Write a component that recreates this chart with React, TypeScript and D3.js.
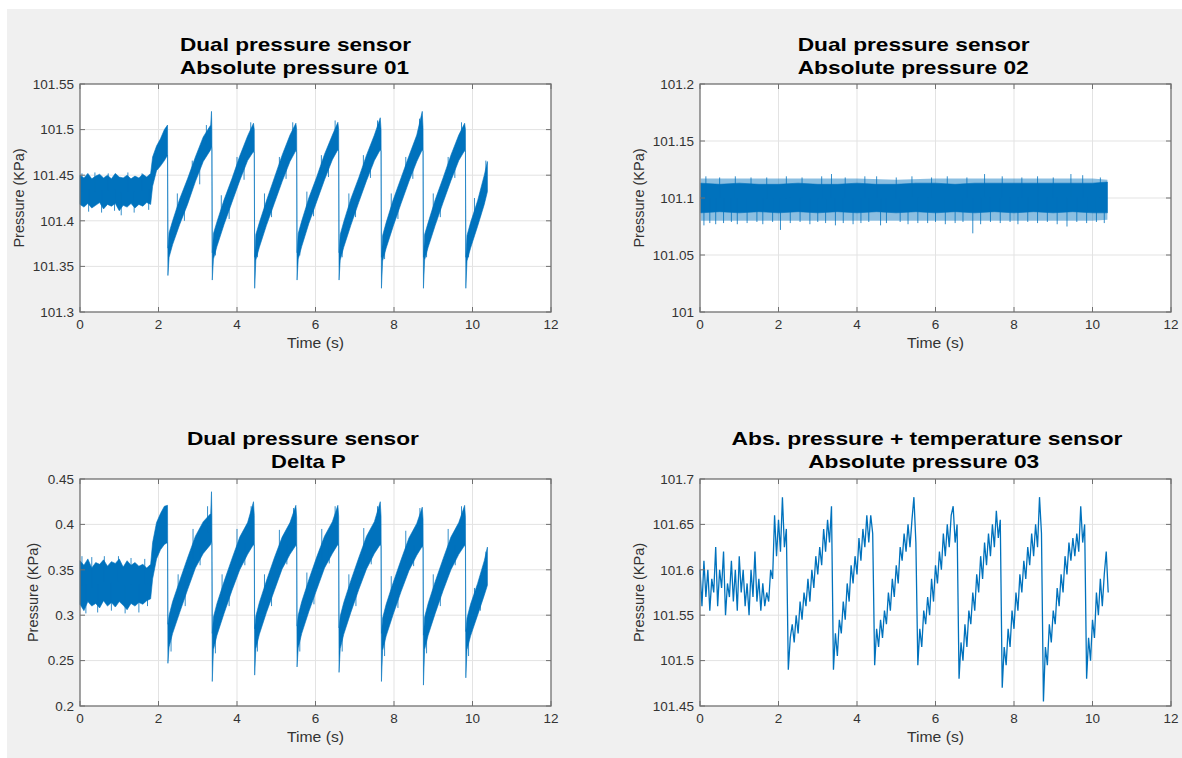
import React from 'react';
import * as d3 from 'd3';

// ---------- tick values & labels ----------
const timeTicks = [0, 2, 4, 6, 8, 10, 12];
const timeTickLabels = ['0', '2', '4', '6', '8', '10', '12'];

const abs01Ticks = [101.3, 101.35, 101.4, 101.45, 101.5, 101.55];
const abs01TickLabels = ['101.3', '101.35', '101.4', '101.45', '101.5', '101.55'];
const abs02Ticks = [101, 101.05, 101.1, 101.15, 101.2];
const abs02TickLabels = ['101', '101.05', '101.1', '101.15', '101.2'];
const deltaTicks = [0.2, 0.25, 0.3, 0.35, 0.4, 0.45];
const deltaTickLabels = ['0.2', '0.25', '0.3', '0.35', '0.4', '0.45'];
const abs03Ticks = [101.45, 101.5, 101.55, 101.6, 101.65, 101.7];
const abs03TickLabels = ['101.45', '101.5', '101.55', '101.6', '101.65', '101.7'];

// ---------- Absolute pressure 01 : dense trace envelope [t, low, high] ----------
const abs01Band: [number, number, number][] = [
  [0, 101.418, 101.45], [0.1, 101.415, 101.447], [0.2, 101.419, 101.452], [0.3, 101.414, 101.446],
  [0.4, 101.417, 101.449], [0.5, 101.42, 101.451], [0.6, 101.413, 101.447], [0.7, 101.418, 101.45],
  [0.8, 101.416, 101.446], [0.9, 101.419, 101.452], [1.0, 101.411, 101.448], [1.1, 101.417, 101.447],
  [1.2, 101.415, 101.45], [1.3, 101.419, 101.446], [1.4, 101.414, 101.449], [1.5, 101.418, 101.447],
  [1.6, 101.416, 101.451], [1.7, 101.42, 101.448], [1.8, 101.418, 101.452],
  [1.85, 101.438, 101.47], [1.95, 101.455, 101.482], [2.05, 101.46, 101.49], [2.15, 101.466, 101.5], [2.23, 101.472, 101.505],
  [2.24, 101.34, 101.37], [2.27, 101.36, 101.387], [2.36, 101.374, 101.4], [2.54, 101.396, 101.424],
  [2.74, 101.418, 101.446], [2.94, 101.443, 101.47], [3.14, 101.465, 101.492], [3.33, 101.478, 101.505],
  [3.35, 101.482, 101.52], [3.36, 101.478, 101.5],
  [3.37, 101.335, 101.365], [3.4, 101.358, 101.386], [3.49, 101.372, 101.399], [3.67, 101.396, 101.423],
  [3.87, 101.42, 101.446], [4.07, 101.444, 101.471], [4.27, 101.466, 101.493], [4.42, 101.476, 101.507], [4.44, 101.474, 101.5],
  [4.45, 101.326, 101.36], [4.48, 101.357, 101.385], [4.57, 101.371, 101.398], [4.75, 101.395, 101.422],
  [4.95, 101.419, 101.447], [5.15, 101.443, 101.472], [5.35, 101.465, 101.494], [5.5, 101.477, 101.507], [5.52, 101.475, 101.5],
  [5.53, 101.335, 101.365], [5.56, 101.358, 101.386], [5.65, 101.372, 101.4], [5.83, 101.397, 101.425],
  [6.03, 101.421, 101.448], [6.23, 101.445, 101.473], [6.43, 101.467, 101.494], [6.57, 101.478, 101.508], [6.59, 101.476, 101.5],
  [6.6, 101.335, 101.365], [6.63, 101.357, 101.385], [6.72, 101.371, 101.399], [6.9, 101.395, 101.424],
  [7.1, 101.42, 101.447], [7.3, 101.444, 101.472], [7.5, 101.466, 101.494], [7.65, 101.478, 101.513], [7.67, 101.476, 101.5],
  [7.68, 101.326, 101.36], [7.71, 101.356, 101.384], [7.8, 101.37, 101.398], [7.98, 101.394, 101.423],
  [8.18, 101.419, 101.447], [8.38, 101.443, 101.471], [8.58, 101.465, 101.494], [8.72, 101.478, 101.52], [8.74, 101.476, 101.502],
  [8.75, 101.326, 101.36], [8.78, 101.357, 101.385], [8.87, 101.371, 101.398], [9.05, 101.395, 101.423],
  [9.25, 101.42, 101.447], [9.45, 101.444, 101.472], [9.65, 101.466, 101.494], [9.8, 101.477, 101.507], [9.82, 101.475, 101.5],
  [9.83, 101.326, 101.36], [9.86, 101.356, 101.384], [9.95, 101.37, 101.398], [10.13, 101.394, 101.422],
  [10.3, 101.418, 101.45], [10.38, 101.432, 101.465],
];
const abs01Spikes: [number, number][] = [
  [0.05, 101.452], [0.22, 101.41], [0.38, 101.453], [0.55, 101.409], [0.72, 101.452], [0.88, 101.411],
  [1.05, 101.406], [1.22, 101.453], [1.38, 101.409], [1.58, 101.452], [1.75, 101.412],
  [2.32, 101.372], [2.48, 101.43], [2.66, 101.4], [2.86, 101.466], [3.05, 101.44], [3.22, 101.505],
  [3.45, 101.362], [3.6, 101.428], [3.8, 101.402], [4.0, 101.47], [4.18, 101.445], [4.35, 101.508],
  [4.52, 101.36], [4.7, 101.43], [4.88, 101.404], [5.08, 101.47], [5.25, 101.446], [5.42, 101.508],
  [5.6, 101.362], [5.78, 101.432], [5.95, 101.405], [6.15, 101.472], [6.33, 101.448], [6.5, 101.51],
  [6.68, 101.36], [6.85, 101.43], [7.02, 101.404], [7.22, 101.472], [7.4, 101.447], [7.58, 101.51],
  [7.76, 101.358], [7.93, 101.43], [8.1, 101.402], [8.3, 101.47], [8.48, 101.446], [8.65, 101.512],
  [8.83, 101.36], [9.0, 101.43], [9.18, 101.404], [9.38, 101.47], [9.55, 101.447], [9.72, 101.508],
  [9.9, 101.36], [10.05, 101.425], [10.2, 101.405], [10.34, 101.466],
];

// ---------- Absolute pressure 02 : dense core and lighter fringe ----------
const abs02Band: [number, number, number][] = [
  [0.02, 101.087, 101.113], [0.5, 101.088, 101.112], [1.0, 101.087, 101.113], [1.5, 101.088, 101.112],
  [2.0, 101.087, 101.112], [2.5, 101.088, 101.113], [3.0, 101.087, 101.112], [3.5, 101.088, 101.112],
  [4.0, 101.087, 101.113], [4.5, 101.088, 101.112], [5.0, 101.087, 101.112], [5.5, 101.088, 101.113],
  [6.0, 101.087, 101.113], [6.5, 101.088, 101.112], [7.0, 101.087, 101.113], [7.5, 101.088, 101.113],
  [8.0, 101.087, 101.113], [8.5, 101.088, 101.113], [9.0, 101.087, 101.113], [9.5, 101.088, 101.113],
  [10.0, 101.087, 101.113], [10.38, 101.087, 101.114],
];
const abs02Fringe: [number, number, number][] = [
  [0.02, 101.08, 101.117], [1.0, 101.08, 101.117], [2.0, 101.08, 101.117], [3.0, 101.08, 101.117],
  [4.0, 101.08, 101.117], [5.0, 101.08, 101.116], [6.0, 101.08, 101.117], [7.0, 101.08, 101.117],
  [8.0, 101.08, 101.117], [9.0, 101.08, 101.117], [10.0, 101.08, 101.117], [10.38, 101.081, 101.116],
];
const abs02Spikes: [number, number][] = [
  [0.1, 101.076], [0.25, 101.078], [0.4, 101.077], [0.6, 101.078], [0.8, 101.079], [0.95, 101.077],
  [1.2, 101.078], [1.45, 101.079], [1.6, 101.077], [1.85, 101.079], [2.05, 101.072], [2.3, 101.078],
  [2.55, 101.079], [2.8, 101.077], [3.0, 101.079], [3.2, 101.078], [3.45, 101.076], [3.65, 101.078],
  [3.9, 101.077], [4.1, 101.078], [4.3, 101.079], [4.6, 101.076], [4.75, 101.078], [5.1, 101.079],
  [5.3, 101.077], [5.55, 101.078], [5.8, 101.078], [6.0, 101.079], [6.25, 101.077], [6.5, 101.078],
  [6.7, 101.079], [6.95, 101.069], [7.15, 101.077], [7.4, 101.079], [7.65, 101.078], [7.9, 101.079],
  [8.1, 101.077], [8.35, 101.079], [8.6, 101.078], [8.85, 101.079], [9.1, 101.077], [9.35, 101.075],
  [9.6, 101.079], [9.85, 101.078], [10.1, 101.079], [10.3, 101.078],
  [0.15, 101.119], [0.5, 101.118], [0.9, 101.119], [1.3, 101.118], [1.7, 101.118], [2.2, 101.119],
  [2.6, 101.118], [3.1, 101.119], [3.35, 101.121], [3.7, 101.118], [4.2, 101.119], [4.5, 101.119],
  [5.0, 101.118], [5.4, 101.119], [5.9, 101.118], [6.3, 101.119], [6.8, 101.118], [7.25, 101.121],
  [7.7, 101.119], [8.2, 101.118], [8.6, 101.119], [9.0, 101.118], [9.45, 101.121], [9.75, 101.12], [10.2, 101.118],
];

// ---------- Delta P ----------
const deltaBand: [number, number, number][] = [
  [0, 0.312, 0.36], [0.1, 0.305, 0.355], [0.2, 0.315, 0.362], [0.3, 0.31, 0.352], [0.4, 0.313, 0.358],
  [0.5, 0.308, 0.356], [0.6, 0.316, 0.361], [0.7, 0.31, 0.354], [0.8, 0.314, 0.359], [0.9, 0.309, 0.357],
  [1.0, 0.315, 0.362], [1.1, 0.311, 0.353], [1.2, 0.306, 0.36], [1.3, 0.313, 0.355], [1.4, 0.31, 0.358],
  [1.5, 0.314, 0.354], [1.6, 0.312, 0.356], [1.7, 0.316, 0.352], [1.8, 0.318, 0.356],
  [1.85, 0.34, 0.38], [1.95, 0.362, 0.402], [2.05, 0.372, 0.412], [2.15, 0.378, 0.42], [2.23, 0.38, 0.421],
  [2.24, 0.247, 0.29], [2.27, 0.265, 0.3], [2.36, 0.28, 0.315], [2.54, 0.303, 0.338], [2.74, 0.328, 0.363],
  [2.94, 0.352, 0.387], [3.14, 0.368, 0.403], [3.33, 0.378, 0.412], [3.35, 0.382, 0.436], [3.36, 0.378, 0.41],
  [3.37, 0.227, 0.28], [3.4, 0.262, 0.298], [3.49, 0.278, 0.313], [3.67, 0.302, 0.337], [3.87, 0.327, 0.362],
  [4.07, 0.35, 0.386], [4.27, 0.367, 0.402], [4.42, 0.378, 0.425], [4.44, 0.376, 0.41],
  [4.45, 0.234, 0.285], [4.48, 0.263, 0.299], [4.57, 0.279, 0.314], [4.75, 0.303, 0.338], [4.95, 0.327, 0.363],
  [5.15, 0.351, 0.386], [5.35, 0.367, 0.402], [5.5, 0.377, 0.421], [5.52, 0.375, 0.408],
  [5.53, 0.243, 0.288], [5.56, 0.264, 0.3], [5.65, 0.28, 0.315], [5.83, 0.304, 0.339], [6.03, 0.328, 0.364],
  [6.23, 0.352, 0.387], [6.43, 0.368, 0.403], [6.57, 0.378, 0.421], [6.59, 0.376, 0.409],
  [6.6, 0.237, 0.286], [6.63, 0.263, 0.299], [6.72, 0.279, 0.314], [6.9, 0.303, 0.338], [7.1, 0.328, 0.363],
  [7.3, 0.351, 0.387], [7.5, 0.368, 0.403], [7.65, 0.378, 0.425], [7.67, 0.376, 0.409],
  [7.68, 0.227, 0.28], [7.71, 0.261, 0.297], [7.8, 0.277, 0.312], [7.98, 0.301, 0.336], [8.18, 0.326, 0.361],
  [8.38, 0.349, 0.385], [8.58, 0.366, 0.401], [8.72, 0.376, 0.419], [8.74, 0.374, 0.406],
  [8.75, 0.223, 0.278], [8.78, 0.262, 0.298], [8.87, 0.278, 0.313], [9.05, 0.302, 0.337], [9.25, 0.327, 0.362],
  [9.45, 0.35, 0.386], [9.65, 0.367, 0.402], [9.8, 0.377, 0.421], [9.82, 0.375, 0.408],
  [9.83, 0.231, 0.282], [9.86, 0.262, 0.297], [9.95, 0.277, 0.312], [10.13, 0.3, 0.335], [10.3, 0.322, 0.36], [10.38, 0.333, 0.375],
];
const deltaSpikes: [number, number][] = [
  [0.05, 0.365], [0.15, 0.302], [0.3, 0.364], [0.45, 0.303], [0.62, 0.365], [0.8, 0.305], [0.98, 0.365],
  [1.15, 0.302], [1.3, 0.363], [1.5, 0.303], [1.65, 0.362], [1.72, 0.31],
  [2.32, 0.26], [2.5, 0.345], [2.68, 0.31], [2.88, 0.395], [3.06, 0.355], [3.25, 0.42],
  [3.45, 0.258], [3.62, 0.345], [3.8, 0.31], [4.0, 0.395], [4.2, 0.355], [4.36, 0.42],
  [4.52, 0.26], [4.7, 0.345], [4.88, 0.31], [5.08, 0.394], [5.27, 0.356], [5.44, 0.418],
  [5.6, 0.26], [5.78, 0.347], [5.96, 0.312], [6.16, 0.395], [6.35, 0.357], [6.5, 0.42],
  [6.68, 0.26], [6.85, 0.345], [7.03, 0.31], [7.23, 0.396], [7.42, 0.356], [7.58, 0.42],
  [7.76, 0.255], [7.93, 0.343], [8.1, 0.308], [8.3, 0.393], [8.5, 0.354], [8.66, 0.418],
  [8.83, 0.258], [9.0, 0.345], [9.18, 0.31], [9.38, 0.395], [9.56, 0.355], [9.72, 0.42],
  [9.9, 0.255], [10.05, 0.33], [10.2, 0.305], [10.34, 0.37],
];

// ---------- Absolute pressure 03 (sampled every 0.05 s) ----------
const abs03Step = 0.05;
const abs03Values = [
  101.6, 101.56, 101.61, 101.57, 101.6, 101.555, 101.59, 101.575, 101.625, 101.56,
  101.6, 101.58, 101.62, 101.55, 101.585, 101.57, 101.61, 101.565, 101.6, 101.555,
  101.615, 101.575, 101.6, 101.56, 101.585, 101.55, 101.6, 101.57, 101.62, 101.565,
  101.59, 101.555, 101.585, 101.56, 101.575, 101.565, 101.6, 101.59, 101.66, 101.615,
  101.655, 101.62, 101.68, 101.625, 101.645, 101.49, 101.525, 101.54, 101.52, 101.55,
  101.53, 101.565, 101.545, 101.575, 101.56, 101.59, 101.565, 101.6, 101.58, 101.615,
  101.595, 101.625, 101.605, 101.645, 101.62, 101.655, 101.63, 101.67, 101.49, 101.53,
  101.505, 101.545, 101.53, 101.565, 101.545, 101.585, 101.565, 101.605, 101.585, 101.615,
  101.595, 101.635, 101.61, 101.645, 101.625, 101.66, 101.63, 101.66, 101.64, 101.495,
  101.535, 101.515, 101.545, 101.525, 101.555, 101.54, 101.575, 101.555, 101.59, 101.57,
  101.605, 101.585, 101.625, 101.61, 101.64, 101.62, 101.65, 101.625, 101.655, 101.68,
  101.63, 101.495, 101.535, 101.515, 101.555, 101.54, 101.57, 101.55, 101.59, 101.565,
  101.605, 101.585, 101.62, 101.6, 101.64, 101.615, 101.65, 101.625, 101.66, 101.67,
  101.63, 101.65, 101.48, 101.52, 101.5, 101.54, 101.515, 101.555, 101.54, 101.575,
  101.555, 101.595, 101.575, 101.615, 101.59, 101.63, 101.605, 101.64, 101.615, 101.65,
  101.625, 101.665, 101.635, 101.655, 101.47, 101.515, 101.495, 101.535, 101.515, 101.555,
  101.535, 101.575, 101.555, 101.595, 101.575, 101.61, 101.59, 101.625, 101.605, 101.64,
  101.615, 101.65, 101.625, 101.68, 101.64, 101.455, 101.515, 101.495, 101.54, 101.52,
  101.555, 101.54, 101.58, 101.56, 101.595, 101.575, 101.615, 101.595, 101.63, 101.61,
  101.635, 101.615, 101.64, 101.62, 101.67, 101.63, 101.65, 101.48, 101.525, 101.5,
  101.545, 101.525, 101.575, 101.55, 101.59, 101.56, 101.595, 101.62, 101.575,
];

const BLUE = '#0072BD';
const AXIS = '#707070';
const TEXT = '#333333';
const FONT = "'Liberation Sans', Arial, Helvetica, sans-serif";

type Box = { x0: number; x1: number; y0: number; y1: number };
type TitleLine = { text: string; cx: number; y: number; len: number };
type Band = [number, number, number][];

function BandTrace({ band, spikes, fringe, x, y }: { band: Band; spikes: [number, number][]; fringe?: Band; x: any; y: any }) {
  const area = d3.area<[number, number, number]>()
    .x((d) => x(d[0]))
    .y0((d) => y(d[1]))
    .y1((d) => y(d[2]));
  const times = band.map((d) => d[0]);
  const loI = d3.scaleLinear().domain(times).range(band.map((d) => d[1])).clamp(true);
  const hiI = d3.scaleLinear().domain(times).range(band.map((d) => d[2])).clamp(true);
  return (
    <g>
      {fringe && <path d={area(fringe) || ''} fill={BLUE} fillOpacity={0.45} />}
      <path d={area(band) || ''} fill={BLUE} stroke={BLUE} strokeWidth={0.6} />
      {spikes.map(([t, v], i) => {
        const lo = loI(t);
        const hi = hiI(t);
        const mid = (lo + hi) / 2;
        return (
          <line key={i} x1={x(t)} x2={x(t)} y1={y(mid)} y2={y(v)}
            stroke={BLUE} strokeWidth={1} strokeOpacity={0.8} />
        );
      })}
    </g>
  );
}

function Panel({ box, yDomain, yTicks, yTickLabels, titles, ylabelX, children }: {
  box: Box; yDomain: [number, number]; yTicks: number[]; yTickLabels: string[];
  titles: TitleLine[]; ylabelX: number; children: (x: any, y: any) => React.ReactNode;
}) {
  const x = d3.scaleLinear().domain([0, 12]).range([box.x0, box.x1]);
  const y = d3.scaleLinear().domain(yDomain).range([box.y1, box.y0]);
  const tl = 5;
  const ymid = (box.y0 + box.y1) / 2;
  return (
    <g>
      <rect x={box.x0} y={box.y0} width={box.x1 - box.x0} height={box.y1 - box.y0} fill="#ffffff" />
      {timeTicks.slice(1, -1).map((t) => (
        <line key={'gx' + t} x1={x(t)} x2={x(t)} y1={box.y0} y2={box.y1} stroke="#e3e3e3" strokeWidth={1} />
      ))}
      {yTicks.slice(1, -1).map((v) => (
        <line key={'gy' + v} x1={box.x0} x2={box.x1} y1={y(v)} y2={y(v)} stroke="#e3e3e3" strokeWidth={1} />
      ))}
      {children(x, y)}
      <rect x={box.x0} y={box.y0} width={box.x1 - box.x0} height={box.y1 - box.y0} fill="none" stroke={AXIS} strokeWidth={1.3} />
      {timeTicks.map((t) => (
        <g key={'tx' + t}>
          <line x1={x(t)} x2={x(t)} y1={box.y1} y2={box.y1 - tl} stroke={AXIS} strokeWidth={1} />
          <line x1={x(t)} x2={x(t)} y1={box.y0} y2={box.y0 + tl} stroke={AXIS} strokeWidth={1} />
        </g>
      ))}
      {yTicks.map((v) => (
        <g key={'ty' + v}>
          <line x1={box.x0} x2={box.x0 + tl} y1={y(v)} y2={y(v)} stroke={AXIS} strokeWidth={1} />
          <line x1={box.x1} x2={box.x1 - tl} y1={y(v)} y2={y(v)} stroke={AXIS} strokeWidth={1} />
        </g>
      ))}
      {timeTicks.map((t, i) => (
        <text key={'lx' + t} x={x(t)} y={box.y1 + 17} textAnchor="middle" fontSize={13.5} fill={TEXT}>{timeTickLabels[i]}</text>
      ))}
      {yTicks.map((v, i) => (
        <text key={'ly' + v} x={box.x0 - 6} y={y(v)} dy="0.36em" textAnchor="end" fontSize={13.5} fill={TEXT}>{yTickLabels[i]}</text>
      ))}
      <text x={x(6)} y={box.y1 + 36} textAnchor="middle" fontSize={14.5} fill={TEXT}
        textLength={57} lengthAdjust="spacingAndGlyphs">Time (s)</text>
      <text transform={`translate(${ylabelX},${ymid}) rotate(-90)`} dy="0.36em" textAnchor="middle" fontSize={14.5} fill={TEXT}>Pressure (KPa)</text>
      {titles.map((t, i) => (
        <text key={'t' + i} x={t.cx} y={t.y} textAnchor="middle" fontSize={19} fontWeight="bold" fill="#000"
          textLength={t.len} lengthAdjust="spacingAndGlyphs">{t.text}</text>
      ))}
    </g>
  );
}

export default function App() {
  const line03 = (x: any, y: any) => {
    const gen = d3.line<number>().x((_, i) => x(i * abs03Step)).y((v) => y(v));
    return <path d={gen(abs03Values) || ''} fill="none" stroke={BLUE} strokeWidth={1.3} strokeLinejoin="miter" />;
  };
  return (
    <svg width={1182} height={758} style={{ position: 'absolute', left: 0, top: 0 }} fontFamily={FONT}>
      <rect x={0} y={0} width={1182} height={758} fill="#ffffff" />
      <rect x={7} y={9} width={1175} height={749} fill="#f0f0f0" />
      <Panel box={{ x0: 80, x1: 551, y0: 84, y1: 312 }} yDomain={[101.3, 101.55]} yTicks={abs01Ticks} yTickLabels={abs01TickLabels}
        ylabelX={18.5}
        titles={[{ text: 'Dual pressure sensor', cx: 295.5, y: 50.5, len: 231 }, { text: 'Absolute pressure 01', cx: 294.5, y: 73.5, len: 229 }]}>
        {(x, y) => <BandTrace band={abs01Band} spikes={abs01Spikes} x={x} y={y} />}
      </Panel>
      <Panel box={{ x0: 700, x1: 1171, y0: 84, y1: 312 }} yDomain={[101, 101.2]} yTicks={abs02Ticks} yTickLabels={abs02TickLabels}
        ylabelX={639}
        titles={[{ text: 'Dual pressure sensor', cx: 913.7, y: 50.5, len: 232 }, { text: 'Absolute pressure 02', cx: 913.2, y: 73.5, len: 231 }]}>
        {(x, y) => <BandTrace band={abs02Band} fringe={abs02Fringe} spikes={abs02Spikes} x={x} y={y} />}
      </Panel>
      <Panel box={{ x0: 80, x1: 551, y0: 479, y1: 706 }} yDomain={[0.2, 0.45]} yTicks={deltaTicks} yTickLabels={deltaTickLabels}
        ylabelX={33}
        titles={[{ text: 'Dual pressure sensor', cx: 302.9, y: 444.5, len: 232 }, { text: 'Delta P', cx: 308.3, y: 467.5, len: 74.6 }]}>
        {(x, y) => <BandTrace band={deltaBand} spikes={deltaSpikes} x={x} y={y} />}
      </Panel>
      <Panel box={{ x0: 700, x1: 1171, y0: 479, y1: 706 }} yDomain={[101.45, 101.7]} yTicks={abs03Ticks} yTickLabels={abs03TickLabels}
        ylabelX={639}
        titles={[{ text: 'Abs. pressure + temperature sensor', cx: 927, y: 444.5, len: 391 }, { text: 'Absolute pressure 03', cx: 923.7, y: 467.5, len: 231 }]}>
        {(x, y) => line03(x, y)}
      </Panel>
    </svg>
  );
}
